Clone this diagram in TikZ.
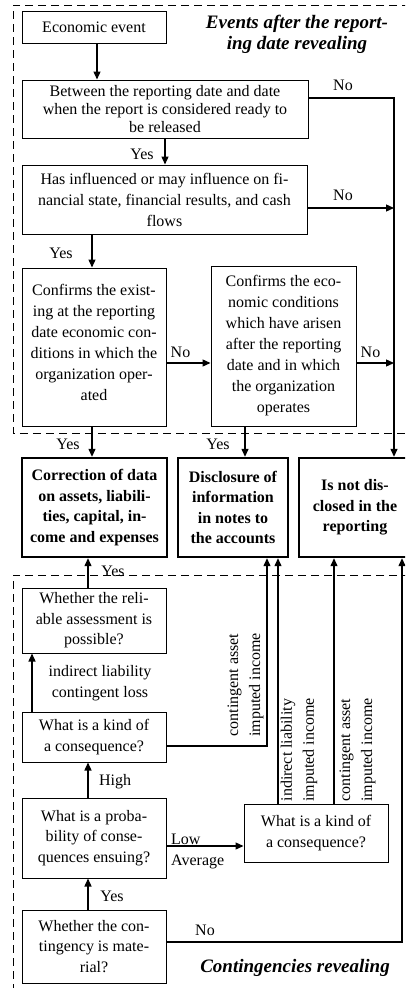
\documentclass[tikz,border=0pt]{standalone}
\usepackage{fontspec}
\setmainfont{Liberation Serif}
\usetikzlibrary{arrows.meta}
\begin{document}
\begin{tikzpicture}[x=1pt,y=-1pt,
  box/.style={draw, line width=1pt, align=center, inner sep=0pt, font=\fontsize{16}{20.5}\selectfont},
  resbox/.style={draw, line width=2.4pt, align=center, inner sep=0pt, font=\bfseries\fontsize{16}{20.5}\selectfont},
  lbl/.style={inner sep=0pt, font=\fontsize{16}{20.5}\selectfont},
  vlbl/.style={inner sep=0pt, rotate=90, align=center, font=\fontsize{16}{22}\selectfont},
  ttl/.style={inner sep=0pt, anchor=base, font=\bfseries\itshape\fontsize{19}{20.5}\selectfont},
  arr/.style={line width=1.3pt, -{Triangle[length=8pt,width=7pt]}},
  conn/.style={line width=1.3pt},
  frame/.style={line width=1pt, dash pattern=on 8pt off 5pt}
]
\useasboundingbox (0,0) rectangle (405,988);
\clip (0,0) rectangle (405,988);

% dashed frames of the two sections
\draw[frame] (410,5) -- (13,5) -- (13,433) -- (410,433);
\draw[frame] (410,575) -- (13,575) -- (13,995);

% section titles
\node[ttl] (t1a) at (297,28.5) {Events after the report-};
\node[ttl] (t1b) at (297,49) {ing date revealing};
\node[ttl] (t2) at (295,972) {Contingencies revealing};

% events after the reporting date
\node[box, minimum width=144pt, minimum height=32pt] (e1) at (94,27) {Economic event};
\node[box, minimum width=286pt, minimum height=58pt, font=\fontsize{16}{18.3}\selectfont] (e2) at (165,109)
  {Between the reporting date and date\\when the report is considered ready to\\be released};
\node[box, minimum width=285pt, minimum height=69pt, font=\fontsize{16}{21}\selectfont] (e3) at (164.5,199.5)
  {Has influenced or may influence on fi-\\nancial state, financial results, and cash\\flows};
\node[box, minimum width=144pt, minimum height=158pt, font=\fontsize{16}{21}\selectfont] (e4) at (94,347)
  {Confirms the exist-\\ing at the reporting\\date economic con-\\ditions in which the\\organization oper-\\ated\\[-12pt]\mbox{}};
\node[box, minimum width=145pt, minimum height=160pt, font=\fontsize{16}{21}\selectfont] (e5) at (283.5,346)
  {Confirms the eco-\\nomic conditions\\which have arisen\\after the reporting\\date and in which\\the organization\\operates};

% outcomes
\node[resbox, minimum width=145pt, minimum height=99pt] (r1) at (94.5,507.5)
  {Correction of data\\on assets, liabili-\\ties, capital, in-\\come and expenses};
\node[resbox, minimum width=110pt, minimum height=99pt] (r2) at (233,507.5)
  {Disclosure of\\information\\in notes to\\the accounts};
\node[resbox, minimum width=112pt, minimum height=99pt] (r3) at (355,507.5)
  {Is not dis-\\closed in the\\reporting};

% contingencies
\node[box, minimum width=144pt, minimum height=65pt] (c9) at (94,620.5)
  {Whether the reli-\\able assessment is\\possible?};
\node[box, minimum width=144pt, minimum height=50pt] (c10) at (94,737)
  {What is a kind of\\a consequence?};
\node[box, minimum width=144pt, minimum height=80pt] (c11) at (94,838)
  {What is a proba-\\bility of conse-\\quences ensuing?};
\node[box, minimum width=144pt, minimum height=58pt] (c12) at (316,833)
  {What is a kind of\\a consequence?};
\node[box, minimum width=144pt, minimum height=73pt] (c13) at (94,946.5)
  {Whether the con-\\tingency is mate-\\rial?};

% connectors of the upper section
\coordinate (rx) at (394,98);
\draw[arr] ([xshift=3pt]e1.south) -- ([xshift=3pt]e1.south |- e2.north);
\draw[arr] (e2.south) -- (e2.south |- e3.north);
\draw[arr] (e2.east |- rx) -- (rx) -- (rx |- r3.north);
\coordinate (p3) at ([yshift=-8.5pt]e3.east);
\draw[arr] (p3) -- (p3 -| rx);
\draw[arr] ([xshift=-2pt]e4.north |- e3.south) -- ([xshift=-2pt]e4.north);
\coordinate (q4) at ([yshift=-16pt]e4.east);
\draw[arr] (q4) -- (q4 -| e5.west);
\draw[arr] (q4 -| e5.east) -- (q4 -| rx);
\draw[arr] ([xshift=-2pt]e4.south) -- ([xshift=-2pt]e4.south |- r1.north);
\draw[arr] ([xshift=12pt]r2.north |- e5.south) -- ([xshift=12pt]r2.north);

% connectors of the lower section
\draw[arr] ([xshift=-6pt]c9.north) -- ([xshift=-6pt]c9.north |- r1.south);
\draw[arr] ([xshift=-62pt]c10.north) -- ([xshift=-62pt]c10.north |- c9.south);
\coordinate (k10) at ([yshift=-9pt]c10.east);
\draw[arr] (k10) -| ([xshift=34pt]r2.south);
\draw[arr] ([xshift=-6pt]c11.north) -- ([xshift=-6pt]c11.north |- c10.south);
\coordinate (k11) at ([yshift=-8pt]c11.east);
\draw[arr] (k11) -- (k11 -| c12.west);
\draw[arr] ([xshift=-38pt]c12.north) -- ([xshift=-38pt]c12.north |- r2.south);
\draw[arr] ([xshift=18pt]c12.north) -- ([xshift=18pt]c12.north |- r3.south);
\draw[arr] ([xshift=-6pt]c13.north) -- ([xshift=-6pt]c13.north |- c11.south);
\coordinate (k13) at ([yshift=4.5pt]c13.east);
\draw[arr] (k13) -| ([xshift=47pt]r3.south);

% connector labels
\node[lbl, anchor=base] (n1) at (343,90.5) {No};
\node[lbl, anchor=base] (y1) at (142,159) {Yes};
\node[lbl, anchor=base] (n2) at (343,200) {No};
\node[lbl, anchor=base] (y2) at (61,258.5) {Yes};
\node[lbl, anchor=base] (n3) at (180.5,357.5) {No};
\node[lbl, anchor=base] (n4) at (370.5,357.5) {No};
\node[lbl, anchor=base] (y3) at (68,449.5) {Yes};
\node[lbl, anchor=base] (y4) at (218,449.5) {Yes};
\node[lbl, anchor=base] (y5) at (113,576.5) {Yes};
\node[lbl, align=center] (l1) at (100,683) {indirect liability\\contingent loss};
\node[lbl, anchor=base] (h1) at (115,785.5) {High};
\node[lbl, anchor=base west] (lo) at (171,844.5) {Low};
\node[lbl, anchor=base west] (av) at (171,865.5) {Average};
\node[lbl, anchor=base] (y6) at (112,901.5) {Yes};
\node[lbl, anchor=base] (n5) at (205,935.5) {No};
\node[vlbl] (v1) at (245.5,685) {contingent asset\\imputed income};
\node[vlbl] (v2) at (299,750) {indirect liability\\imputed income};
\node[vlbl] (v3) at (357.5,750) {contingent asset\\imputed income};
\end{tikzpicture}
\end{document}
